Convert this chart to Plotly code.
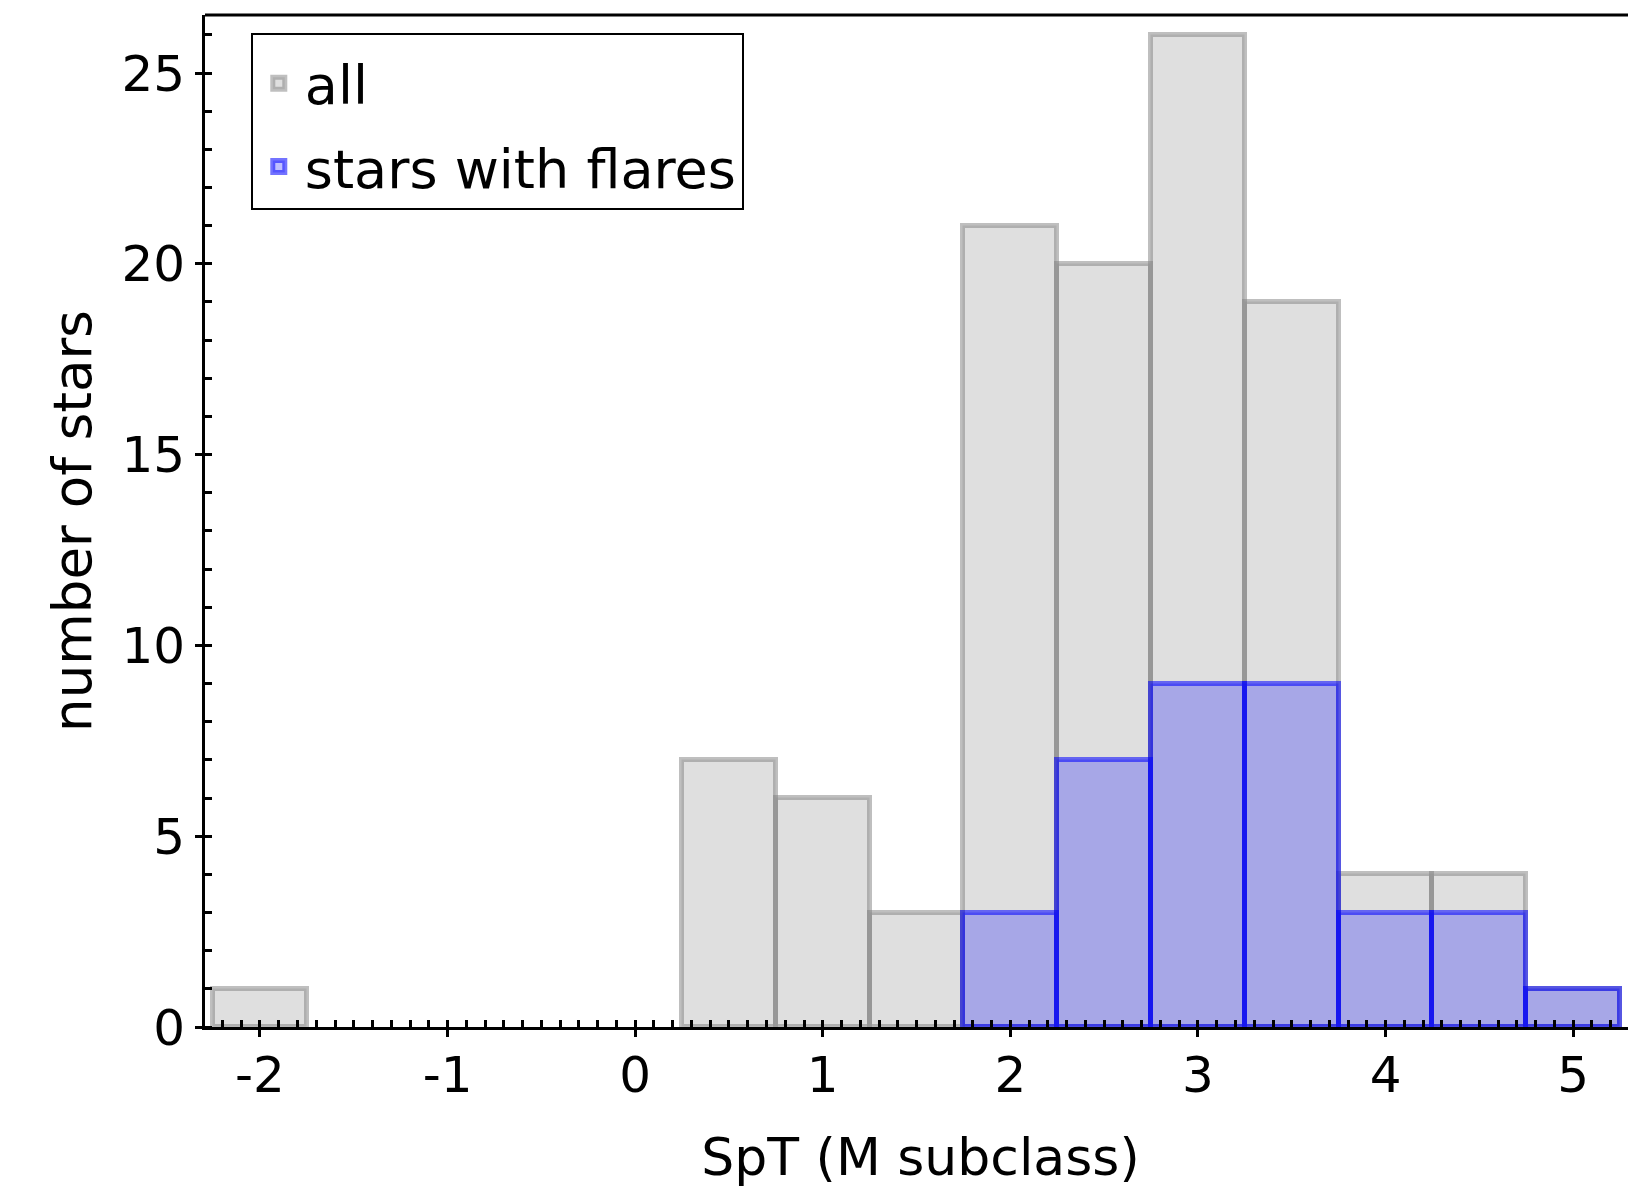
import plotly.graph_objects as go

# Data: histogram bins (SpT, M subclass) with bin width 0.5
bin_centers = [-2.0, -1.5, -1.0, -0.5, 0.0, 0.5, 1.0, 1.5, 2.0, 2.5, 3.0, 3.5, 4.0, 4.5, 5.0]
all_counts = [1, 0, 0, 0, 0, 7, 6, 3, 21, 20, 26, 19, 4, 4, 1]
flare_counts = [0, 0, 0, 0, 0, 0, 0, 0, 3, 7, 9, 9, 3, 3, 1]
bin_width = 0.5
x_ticks = [-2, -1, 0, 1, 2, 3, 4, 5]
y_ticks = [0, 5, 10, 15, 20, 25]

FONT = "DejaVu Sans"
xr = [-2.293, 5.335]
yr = [0, 26.52]

fig = go.Figure()
fig.add_trace(go.Bar(
    x=bin_centers, y=[v if v else None for v in all_counts], width=bin_width,
    name="all", legendgroup="a",
    marker=dict(color="rgba(128,128,128,0.25)",
                line=dict(color="rgba(128,128,128,0.5)", width=5)),
))
fig.add_trace(go.Bar(
    x=bin_centers, y=[v if v else None for v in flare_counts], width=bin_width,
    name="stars with flares", legendgroup="b",
    marker=dict(color="rgba(0,0,255,0.25)",
                line=dict(color="rgba(0,0,255,0.55)", width=5)),
))

axis_common = dict(showgrid=False, zeroline=False, showline=True, linecolor="black",
                   linewidth=3, ticks="outside", tickwidth=3, ticklen=7,
                   tickcolor="black", tickfont=dict(family=FONT, size=50, color="black"))

fig.update_layout(
    width=1628, height=1180,
    margin=dict(l=197, r=0, t=7, b=161, autoexpand=False),
    paper_bgcolor="white", plot_bgcolor="white",
    barmode="overlay", bargap=0,
    font=dict(family=FONT, size=52, color="black"),
    xaxis=dict(range=xr, tickvals=x_ticks, ticktext=[str(t) for t in x_ticks],
               minor=dict(ticks="inside", dtick=0.1, tick0=0, ticklen=7, tickwidth=3, tickcolor="black"),
               title=dict(text="SpT (M subclass)", font=dict(family=FONT, size=52), standoff=36),
               ticklabelstandoff=-5,
               **axis_common),
    yaxis=dict(range=yr, tickvals=y_ticks, ticktext=[str(t) for t in y_ticks],
               minor=dict(ticks="inside", dtick=1, tick0=0, ticklen=7, tickwidth=3, tickcolor="black"),
               title=dict(text="number of stars", font=dict(family=FONT, size=53), standoff=13),
               ticklabelstandoff=0,
               **axis_common),
    xaxis2=dict(range=xr, overlaying="x", anchor="y", side="bottom", showgrid=False, zeroline=False,
                showline=False, ticks="inside", ticklen=7, tickwidth=3, tickcolor="black",
                tickvals=x_ticks, showticklabels=False),
    yaxis2=dict(range=yr, overlaying="y", anchor="x", side="left", showgrid=False, zeroline=False,
                showline=False, ticks="inside", ticklen=7, tickwidth=3, tickcolor="black",
                tickvals=y_ticks, showticklabels=False),
    legend=dict(x=0.032, y=0.982, xanchor="left", yanchor="top",
                bordercolor="black", borderwidth=2, bgcolor="white",
                font=dict(family=FONT, size=54), traceorder="grouped",
                itemwidth=42, tracegroupgap=10,
                title=dict(text=" ", font=dict(size=5))),
    showlegend=True,
    shapes=[dict(type="line", xref="paper", yref="paper", x0=0, x1=1, y0=1, y1=1,
                 line=dict(color="black", width=3))],
)
# invisible traces to activate overlay axes
fig.add_trace(go.Scatter(x=[xr[0]], y=[yr[0]], xaxis="x2", yaxis="y", mode="markers",
                         marker=dict(opacity=0), showlegend=False, hoverinfo="skip"))
fig.add_trace(go.Scatter(x=[xr[0]], y=[yr[0]], xaxis="x", yaxis="y2", mode="markers",
                         marker=dict(opacity=0), showlegend=False, hoverinfo="skip"))

fig.write_html("out.html")
